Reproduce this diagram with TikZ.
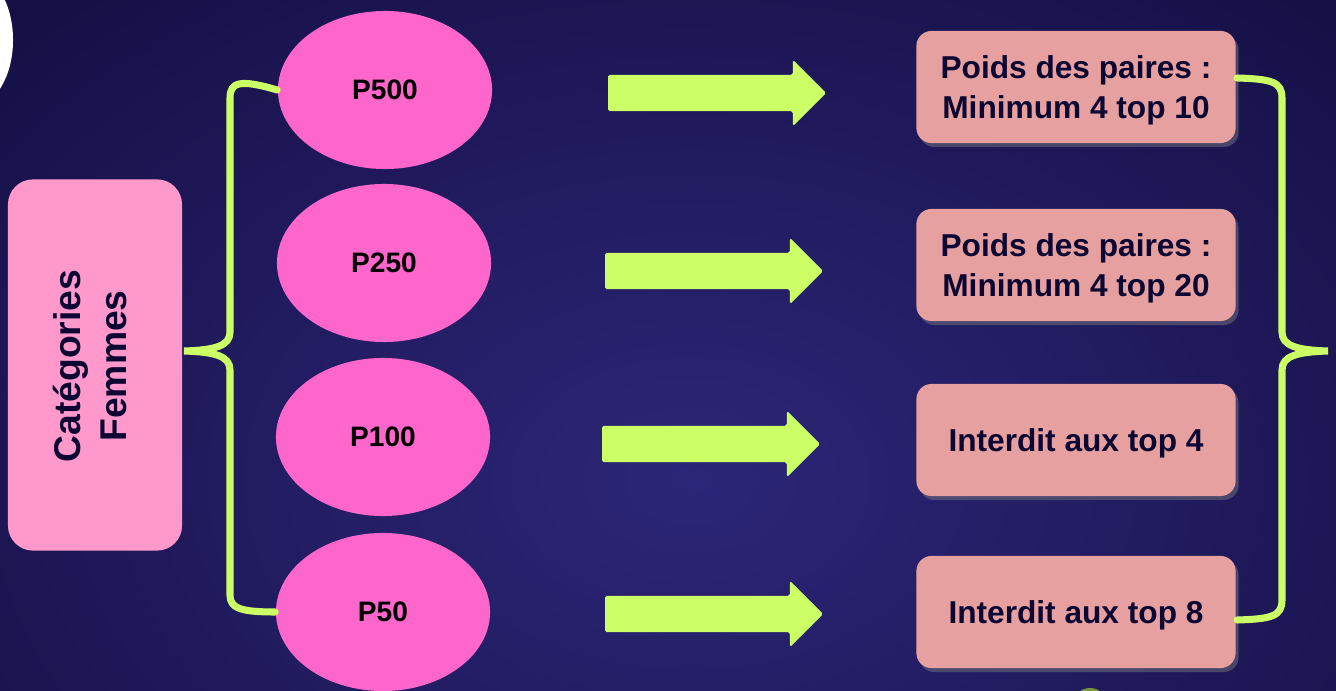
\documentclass[tikz,border=0pt]{standalone}
\usepackage{fontspec}
\setmainfont{Liberation Sans}
\usetikzlibrary{shapes.geometric,shapes.arrows,shadows}
\definecolor{fond}{RGB}{11,5,46}
\definecolor{fondc}{RGB}{44,38,120}
\definecolor{vert}{RGB}{204,255,102}
\definecolor{rose}{RGB}{255,102,204}
\definecolor{rosec}{RGB}{255,153,204}
\definecolor{saumon}{RGB}{230,160,160}
\definecolor{encre}{RGB}{12,6,50}
\definecolor{olive}{RGB}{125,150,55}
\begin{document}
\begin{tikzpicture}[x=.01cm, y=-.01cm,
  cat/.style={fill=rosec, rounded corners=.25cm, minimum width=1.74cm, minimum height=3.71cm, inner sep=0pt},
  poids/.style={ellipse, fill=rose, minimum width=2.14cm, minimum height=1.58cm, inner sep=0pt, font=\fontsize{8}{10}\selectfont\bfseries},
  regle/.style={fill=saumon, rounded corners=.15cm, minimum width=3.19cm, minimum height=1.12cm, align=center,
    text=encre, text depth=0pt, font=\fontsize{9}{11.4}\selectfont\bfseries,
    drop shadow={opacity=.45, shadow xshift=.03cm, shadow yshift=-.04cm}},
  fleche/.style={single arrow, fill=vert, rounded corners=.5pt, minimum height=2.18cm, inner sep=.175cm,
    single arrow head extend=.15cm},
  accolade/.style={draw=vert, line width=2pt, line cap=round}]
\useasboundingbox (0,0) rectangle (1336,691);
% fond
\fill[fond] (0,0) rectangle (1336,691);
\begin{scope}
\clip (0,0) rectangle (1336,691);
\shade[inner color=fondc, outer color=fond] (690,480) ellipse [x radius=14cm, y radius=9.6cm];
\fill[white] (-27,40) ellipse [x radius=.4cm, y radius=.66cm];
\fill[olive] (1090,706) circle (.18cm);
\end{scope}
% gauche
\node[cat] (cat) at (95,365) {};
\node[rotate=90, align=center, text=encre, font=\fontsize{10.6}{13.1}\selectfont\bfseries] (cattxt) at (90,366) {Catégories\\Femmes};
\node[poids] (p500) at (385,90) {P500};
\node[poids] (p250) at (384,263) {P250};
\node[poids] (p100) at (383,437) {P100};
\node[poids] (p50) at (383,612) {P50};
\coordinate (tipg) at (184,351);
\draw[accolade] (p500.west) .. controls (240,79) and (230,82) .. (230,98) -- (230,332)
  .. controls (230,346) and (215,350) .. (tipg) .. controls (215,352) and (230,356) .. (230,370)
  -- (230,595) .. controls (230,608) and (240,612) .. (p50.west);
% fleches
\node[fleche] (f1) at (708,93) {};
\node[fleche] (f2) at (705,271) {};
\node[fleche] (f3) at (702,444) {};
\node[fleche] (f4) at (705,614) {};
% droite
\node[regle] (r1) at (1076,87) {Poids des paires :\\Minimum 4 top 10};
\node[regle] (r2) at (1076,265) {Poids des paires :\\Minimum 4 top 20};
\node[regle] (r3) at (1076,440) {Interdit aux top 4};
\node[regle] (r4) at (1076,612) {Interdit aux top 8};
\coordinate (tipd) at (1328,351);
\draw[accolade] (1237,78) .. controls (1272,79) and (1282,82) .. (1282,98) -- (1282,332)
  .. controls (1282,346) and (1297,350) .. (tipd) .. controls (1297,352) and (1282,356) .. (1282,370)
  -- (1282,600) .. controls (1282,616) and (1272,619) .. (1237,620);
\end{tikzpicture}
\end{document}
